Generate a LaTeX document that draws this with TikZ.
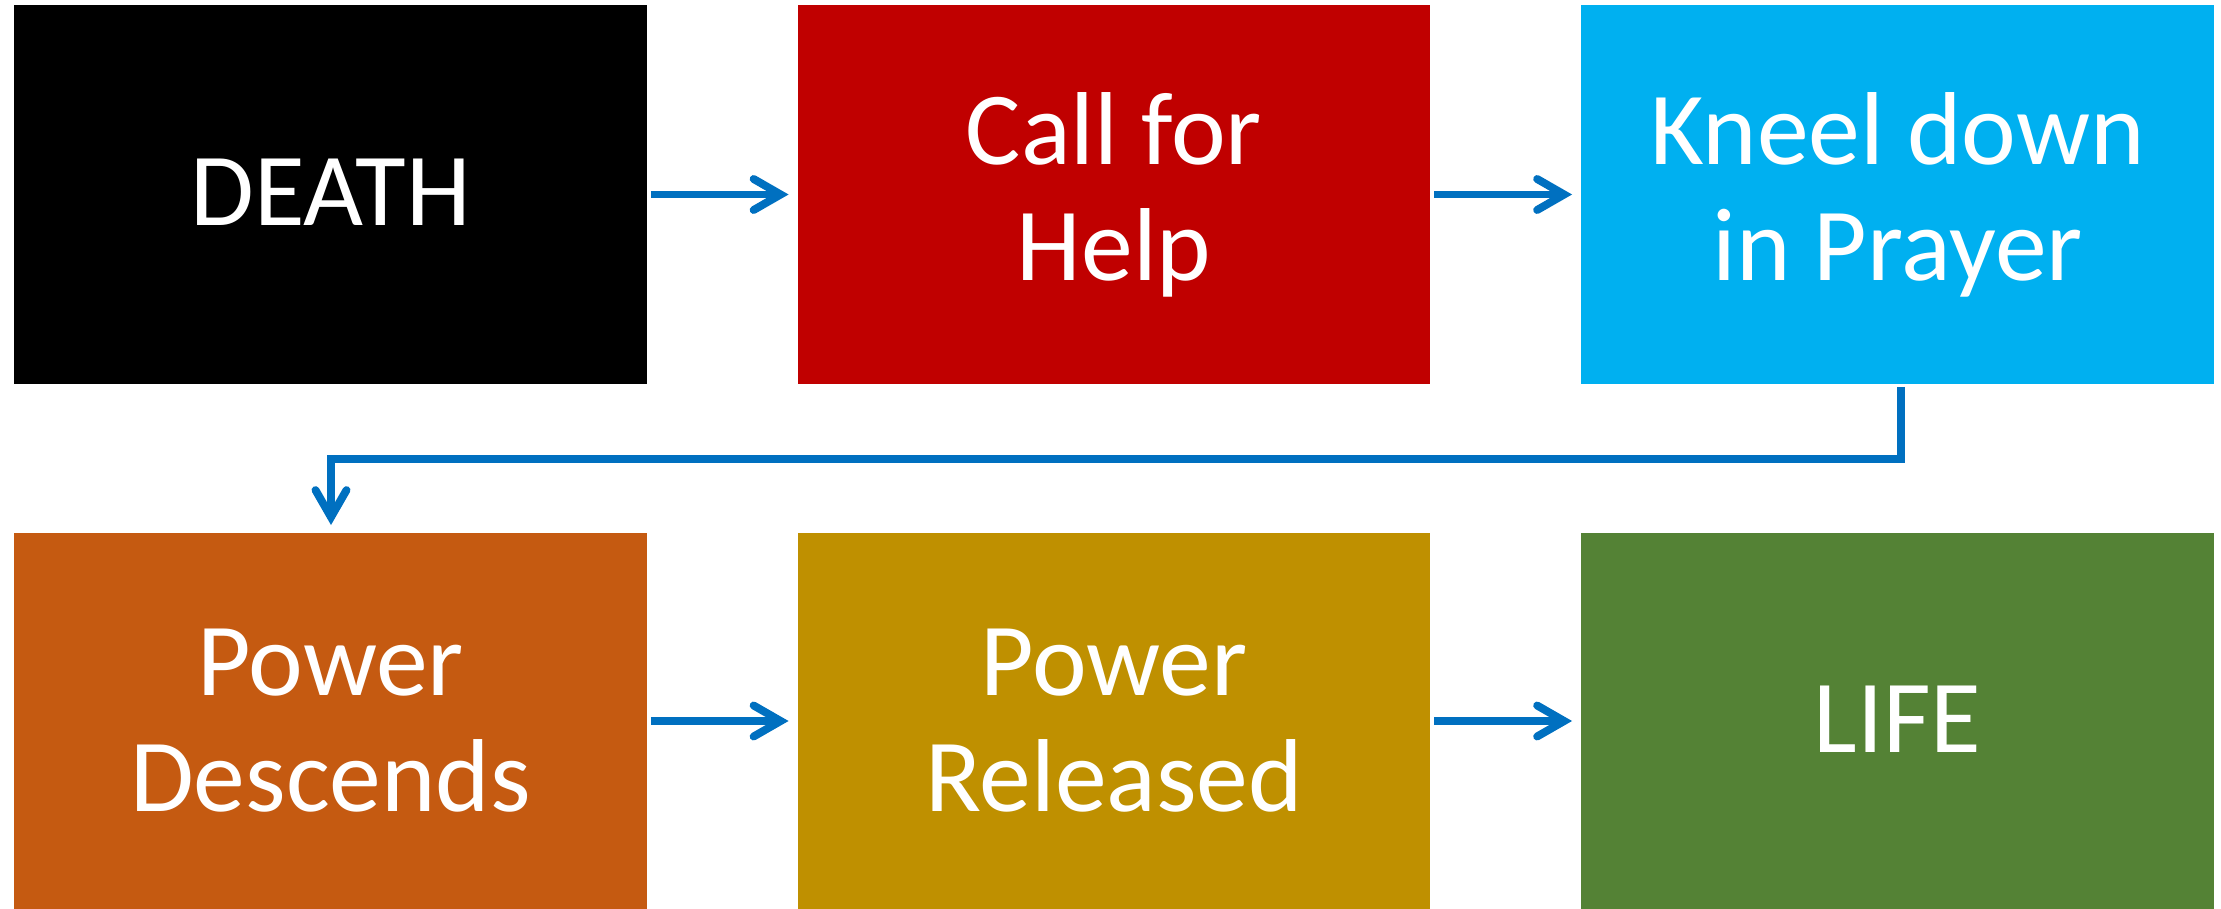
\documentclass[tikz,border=0pt]{standalone}
\usepackage{fontspec}
\setmainfont{Carlito}
\usetikzlibrary{arrows.meta}
\definecolor{cDeath}{HTML}{000000}
\definecolor{cCall}{HTML}{C00000}
\definecolor{cKneel}{HTML}{00B0F0}
\definecolor{cDesc}{HTML}{C55A11}
\definecolor{cRel}{HTML}{BF9000}
\definecolor{cLife}{HTML}{548235}
\definecolor{cArrow}{HTML}{0070C0}
\tikzset{
  box/.style={rectangle, inner sep=0pt, outer sep=0pt, draw=none,
    minimum width=12.66cm, text=white, align=center,
    font=\fontsize{59pt}{66pt}\selectfont},
  toprow/.style={box, minimum height=7.58cm},
  botrow/.style={box, minimum height=7.52cm},
  conn/.style={draw=cArrow, line width=4.5pt,
    -{Straight Barb[length=0.54cm, width=0.62cm, line cap=round, line width=4.5pt]}},
}
\begin{document}
\begin{tikzpicture}[x=0.02cm, y=-0.02cm]
\useasboundingbox (0,0) rectangle (2221,909);
\node[toprow, fill=cDeath] (death) at (330.5,194.5) {\raisebox{0.08cm}{DEATH}};
\node[toprow, fill=cCall]  (call)  at (1114,194.5) {Call for\\Help};
\node[toprow, fill=cKneel] (kneel) at (1897.5,194.5) {Kneel down\\in Prayer};
\node[botrow, fill=cDesc]  (desc)  at (330.5,721) {Power\\Descends};
\node[botrow, fill=cRel]   (rel)   at (1114,721) {Power\\Released};
\node[botrow, fill=cLife]  (life)  at (1897.5,721) {\raisebox{0.06cm}{LIFE}};
\coordinate (k2) at (331,459);
\draw[conn] ([xshift=0.08cm]death.east) -- ([xshift=-0.18cm]call.west);
\draw[conn] ([xshift=0.08cm]call.east) -- ([xshift=-0.18cm]kneel.west);
\draw[conn] ([xshift=0.08cm]desc.east) -- ([xshift=-0.18cm]rel.west);
\draw[conn] ([xshift=0.08cm]rel.east) -- ([xshift=-0.18cm]life.west);
\draw[conn] ([xshift=0.07cm, yshift=-0.06cm]kneel.south) |- (k2) -- ([yshift=0.16cm]k2 |- desc.north);
\end{tikzpicture}
\end{document}
